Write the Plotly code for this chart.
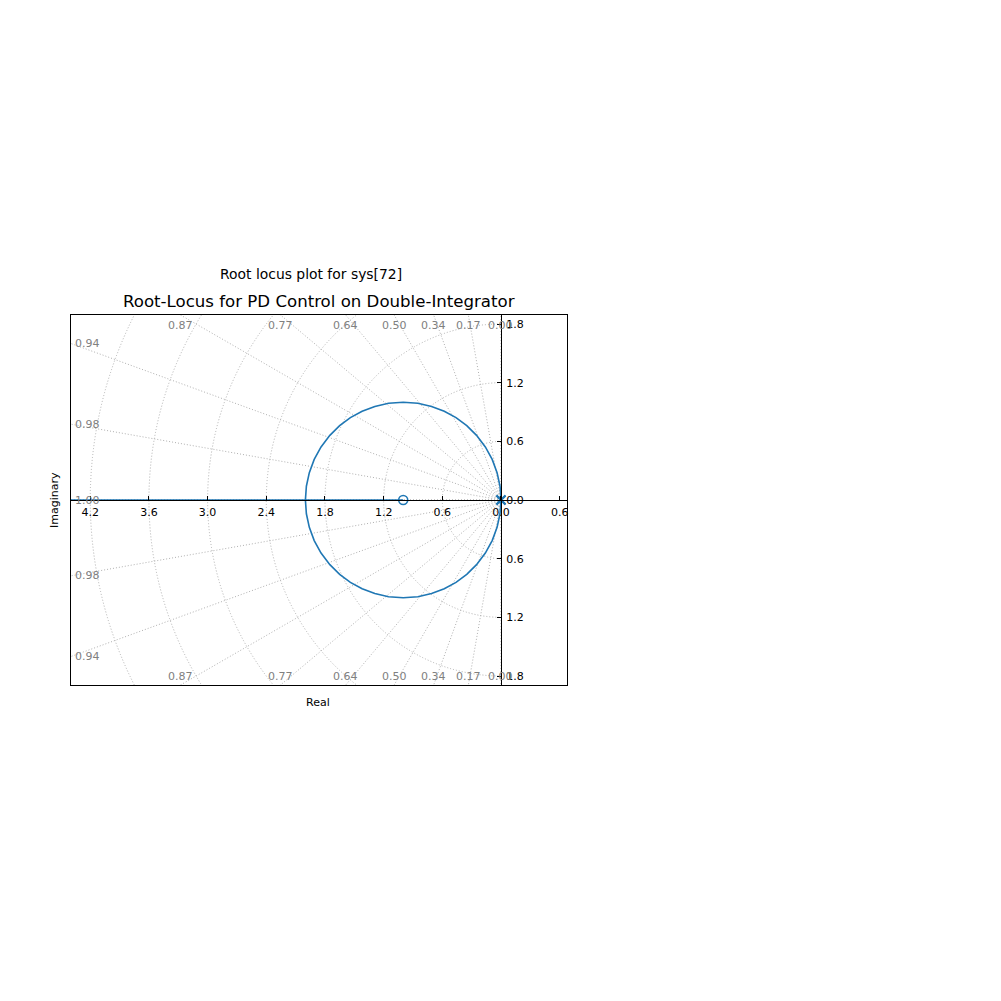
import numpy as np
import plotly.graph_objects as go

# Lieu des racines de K(s+1)/s^2
upper_re = [0.0, -0.01, -0.04, -0.09, -0.16, -0.25, -0.35, -0.46, -0.58, -0.71, -0.85, -1.0,
            -1.15, -1.29, -1.42, -1.54, -1.65, -1.75, -1.84, -1.91, -1.96, -1.99, -2.0]
upper_im = [0.0, 0.141, 0.28, 0.415, 0.543, 0.661, 0.76, 0.842, 0.908, 0.957, 0.989, 1.0,
            0.989, 0.957, 0.908, 0.842, 0.76, 0.661, 0.543, 0.415, 0.28, 0.141, 0.0]
lower_im = [-v for v in upper_im]
# après le point de rencontre (-2) : une branche vers le zéro, l'autre vers -inf
to_zero_re = [-1.5, -1.0]
to_inf_re = [-3.0, -5.0]

pole_re = [0.0, 0.0]
pole_im = [0.0, 0.0]
zero_re = [-1.0]
zero_im = [0.0]

# grille s : cercles de pulsation et rayons d'amortissement
wn_circles = [0.6, 1.2, 1.8, 2.4, 3.0, 3.6, 4.2]
damping_angles_deg = [0, 10, 20, 30, 40, 50, 60, 70, 80, 90]

x_ticks = [-4.2, -3.6, -3.0, -2.4, -1.8, -1.2, -0.6, 0.0, 0.6]
x_ticktext = ["4.2", "3.6", "3.0", "2.4", "1.8", "1.2", "0.6", "0.0", "0.6"]
y_ticks = [-1.8, -1.2, -0.6, 0.0, 0.6, 1.2, 1.8]
y_ticktext = ["1.8", "1.2", "0.6", "0.0", "0.6", "1.2", "1.8"]

X_RANGE = [-4.397, 0.675]
Y_RANGE = [-1.892, 1.892]

BLUE = "#1f77b4"
GRID = "#b0b0b0"
FONT = "DejaVu Sans"

# la page HTML ajoute une marge de 8 px autour de la figure
OFF = 8
PLOT_L, PLOT_T, PLOT_W, PLOT_H = 71 - OFF, 315 - OFF, 496, 370

fig = go.Figure()

fig.add_trace(go.Scatter(
    x=upper_re + to_zero_re, y=upper_im + [0.0] * len(to_zero_re),
    mode="lines", line=dict(color=BLUE, width=1.6), hoverinfo="skip",
))
fig.add_trace(go.Scatter(
    x=upper_re + to_inf_re, y=lower_im + [0.0] * len(to_inf_re),
    mode="lines", line=dict(color=BLUE, width=1.6), hoverinfo="skip",
))
fig.add_trace(go.Scatter(
    x=pole_re, y=pole_im, mode="markers",
    marker=dict(symbol="x-thin-open", size=9, color=BLUE, line=dict(color=BLUE, width=2)),
))
fig.add_trace(go.Scatter(
    x=zero_re, y=zero_im, mode="markers",
    marker=dict(symbol="circle-open", size=9, color=BLUE, line=dict(color=BLUE, width=1.6)),
))
# trace vide pour faire exister les axes centrés
fig.add_trace(go.Scatter(x=[None], y=[None], xaxis="x2", yaxis="y2", hoverinfo="skip"))

grid_line = dict(color=GRID, width=1, dash="1px,2px")
for r in wn_circles:
    fig.add_shape(type="circle", xref="x", yref="y", x0=-r, y0=-r, x1=r, y1=r,
                  line=grid_line, layer="below")
# la grille n'existe que dans le demi-plan gauche : on masque la partie droite
fig.add_shape(type="rect", xref="x", yref="y", x0=0, x1=X_RANGE[1] + 1,
              y0=Y_RANGE[0] - 1, y1=Y_RANGE[1] + 1, line=dict(width=0),
              fillcolor="white", layer="below")

xmin, xmax = X_RANGE
ymin, ymax = Y_RANGE
lab_font = dict(family=FONT, size=11, color="gray")
for a in damping_angles_deg:
    th = np.radians(a)
    c, s = np.cos(th), np.sin(th)
    for sign in (1, -1):
        fig.add_shape(type="line", xref="x", yref="y", x0=0, y0=0,
                      x1=-10 * c, y1=sign * 10 * s, line=grid_line, layer="below")
    label = f"{c:.2f}"
    if s > 1e-9 and -ymax * c / s >= xmin:
        xt = -ymax * c / s
        fig.add_annotation(x=xt, y=ymax, text=label, showarrow=False, xref="x", yref="y",
                           xanchor="center", yanchor="top", yshift=-2, font=lab_font)
        fig.add_annotation(x=xt, y=ymin, text=label, showarrow=False, xref="x", yref="y",
                           xanchor="center", yanchor="bottom", yshift=0, font=lab_font)
    else:
        yt = -xmin * s / c
        for sign in ((1, -1) if a else (1,)):
            fig.add_annotation(x=xmin, y=sign * yt, text=label, showarrow=False,
                               xref="x", yref="y", xanchor="left", yanchor="middle",
                               xshift=2, font=lab_font)

tick_font = dict(family=FONT, size=11, color="black")
frame = dict(showline=True, mirror=True, linecolor="black", linewidth=1,
             showgrid=False, zeroline=False, showticklabels=False, ticks="")
fig.update_layout(
    width=1001, height=1001,
    margin=dict(l=PLOT_L, r=1001 - PLOT_L - PLOT_W, t=PLOT_T, b=1001 - PLOT_T - PLOT_H,
                autoexpand=False),
    paper_bgcolor="white", plot_bgcolor="white",
    showlegend=False,
    xaxis={**frame, "range": X_RANGE},
    yaxis={**frame, "range": Y_RANGE},
    xaxis2=dict(overlaying="x", anchor="free", position=0.5, side="bottom",
                range=X_RANGE, showline=True, linecolor="black", linewidth=1,
                showgrid=False, zeroline=False, ticks="inside", ticklen=4,
                tickcolor="black", tickvals=x_ticks, ticktext=x_ticktext,
                tickfont=tick_font, ticklabelstandoff=2),
    yaxis2=dict(overlaying="y", anchor="free", position=(0 - xmin) / (xmax - xmin),
                side="right", range=Y_RANGE, showline=True, linecolor="black",
                linewidth=1, showgrid=False, zeroline=False, ticks="inside",
                ticklen=4, tickcolor="black", tickvals=y_ticks, ticktext=y_ticktext,
                tickfont=tick_font, ticklabelstandoff=2),
)

fig.add_annotation(text="Root-Locus for PD Control on Double-Integrator", xref="paper",
                   yref="paper", x=0.499, y=(685 - 302) / 370, showarrow=False,
                   xanchor="center", yanchor="middle",
                   font=dict(family=FONT, size=16.6, color="black"))
fig.add_annotation(text="Root locus plot for sys[72]", xref="paper", yref="paper",
                   x=(311 - 71) / 496, y=(685 - 274) / 370, showarrow=False,
                   xanchor="center", yanchor="middle",
                   font=dict(family=FONT, size=13.9, color="black"))
fig.add_annotation(text="Real", xref="paper", yref="paper", x=(318 - 71) / 496,
                   y=(685 - 702) / 370, showarrow=False, xanchor="center",
                   yanchor="middle", font=dict(family=FONT, size=11, color="black"))
fig.add_annotation(text="Imaginary", xref="paper", yref="paper", x=(54 - 71) / 496,
                   y=0.5, showarrow=False, textangle=-90, xanchor="center",
                   yanchor="middle", font=dict(family=FONT, size=11, color="black"))

fig.write_html("out.html")
